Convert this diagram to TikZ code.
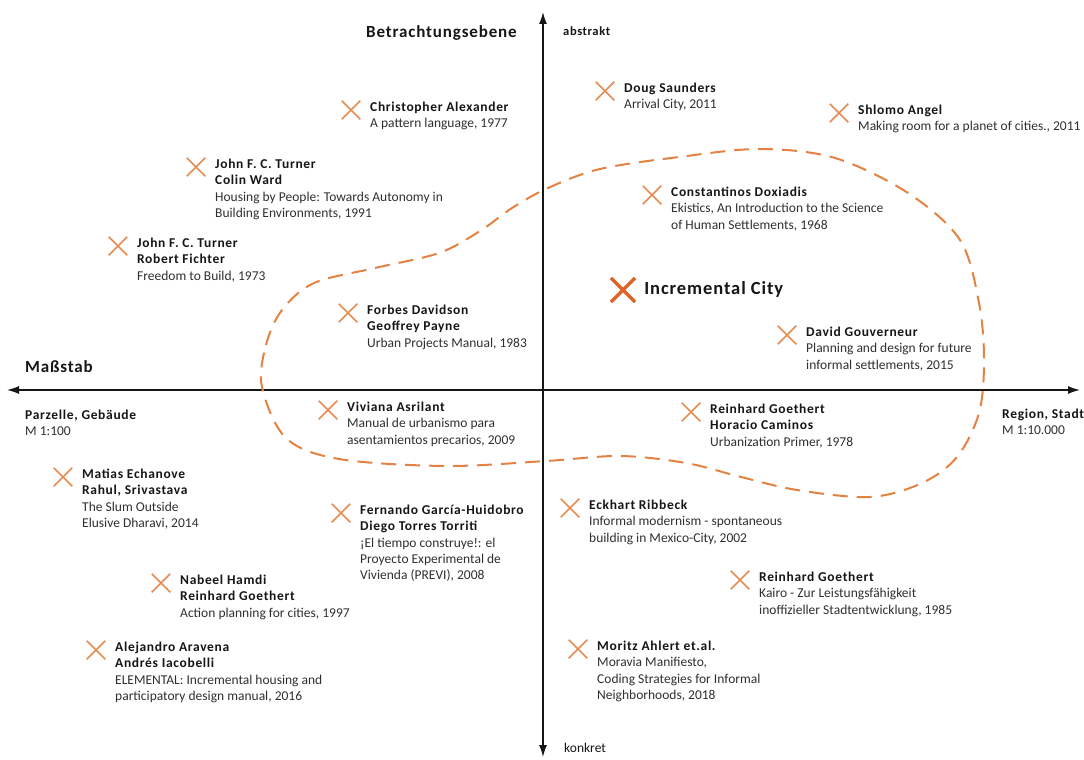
\documentclass[tikz,border=0pt]{standalone}
\usepackage{fontspec}
\setmainfont{Carlito}[BoldFeatures={LetterSpace=5}]
\usetikzlibrary{arrows.meta,shapes.misc}

\definecolor{markorange}{RGB}{230,140,82}
\definecolor{keyorange}{RGB}{224,98,38}
\definecolor{curveorange}{RGB}{228,130,66}
\definecolor{inkdark}{RGB}{22,22,22}
\definecolor{inkgrey}{RGB}{48,48,48}

% one literature reference: orange cross plus a text block to its right
\newcommand\litentry[4]{%
  \node[refmark] (#1) at (#2,#3) {};
  \node[reftext] (#1-text) at ([shift={(19,-8)}]#1.center) {#4};
}
\newcommand\au[1]{\textbf{\color{inkdark}#1}}

\begin{document}
\begin{tikzpicture}[x=1pt,y=-1pt,
  axis/.style={line width=1.4pt, draw=inkdark,
    {Latex[length=12pt,width=8pt]}-{Latex[length=12pt,width=8pt]}},
  refmark/.style={cross out, draw=markorange, line width=1.5pt,
    minimum size=17pt, inner sep=0pt},
  keymark/.style={cross out, draw=keyorange, line width=3.2pt,
    minimum size=21pt, inner sep=0pt},
  reftext/.style={anchor=north west, inner sep=0pt, align=left, text=inkgrey,
    font=\fontsize{13.5}{16.2}\selectfont,
    execute at begin node={\rule{0pt}{10pt}}},
  axistitle/.style={inner sep=0pt, text=inkdark, font=\fontsize{17}{20}\selectfont\bfseries},
  polelabel/.style={inner sep=0pt, anchor=west, text=inkdark, font=\fontsize{13.5}{16}\selectfont},
  zone/.style={draw=curveorange, line width=2pt, dash pattern=on 15pt off 9pt}
]
\useasboundingbox (0,0) rectangle (1084,760);
\fill[white] (0,0) rectangle (1084,760);

% axes
\coordinate (vtop) at (543,12);
\coordinate (vbottom) at (543,757);
\coordinate (hleft) at (7,390);
\coordinate (hright) at (1080,390);
\draw[axis] (hleft) -- (hright);
\draw[axis] (vbottom) -- (vtop);

% axis titles and pole labels
\node[axistitle, anchor=west] (ebene) at (366,33) {Betrachtungsebene};
\node[axistitle, anchor=west] (massstab) at (25,367) {Maßstab};
\node[polelabel, font=\fontsize{12.5}{15}\selectfont\bfseries] (abstrakt) at (563,31) {abstrakt};
\node[polelabel] (konkret) at (564,748) {konkret};
\node[reftext] (parzelle) at (25,410) {\au{Parzelle, Gebäude}\\M 1:100};
\node[reftext] (region) at (1002,409) {\au{Region, Stadt}\\M 1:10.000};

% zone of the incremental city
\draw[zone] plot[smooth cycle, tension=0.55] coordinates {
  (262,387) (266,345) (282,310) (314,283) (375,268) (439,253) (480,231)
  (512,208) (548,188) (600,169) (679,157) (760,149) (835,158) (908,193)
  (960,240) (979,303) (984,360) (979,413) (957,457) (922,483) (870,497)
  (797,490) (741,477) (686,463) (620,456) (546,461) (446,466) (339,459)
  (286,438)};

% key position
\node[keymark] (incremental) at (623,290) {};
\node[anchor=west, inner sep=0pt, text=inkdark, font=\fontsize{18.5}{22}\selectfont\bfseries]
  (incremental-text) at ([xshift=9pt,yshift=1pt]incremental.east) {Incremental City};

% literature references
\litentry{alexander}{351}{110}{\au{Christopher Alexander}\\A pattern language, 1977}
\litentry{saunders}{605}{91}{\au{Doug Saunders}\\Arrival City, 2011}
\litentry{angel}{839}{113}{\au{Shlomo Angel}\\Making room for a planet of cities., 2011}
\litentry{turnerward}{196}{167}{\au{John F. C. Turner}\\\au{Colin Ward}\\Housing by People: Towards Autonomy in\\Building Environments, 1991}
\litentry{doxiadis}{652}{195}{\au{Constantinos Doxiadis}\\Ekistics, An Introduction to the Science\\of Human Settlements, 1968}
\litentry{turnerfichter}{118}{246}{\au{John F. C. Turner}\\\au{Robert Fichter}\\Freedom to Build, 1973}
\litentry{davidson}{348}{313}{\au{Forbes Davidson}\\\au{Geoffrey Payne}\\Urban Projects Manual, 1983}
\litentry{gouverneur}{787}{335}{\au{David Gouverneur}\\Planning and design for future\\informal settlements, 2015}
\litentry{asrilant}{328}{410}{\au{Viviana Asrilant}\\Manual de urbanismo para\\asentamientos precarios, 2009}
\litentry{goethertcaminos}{691}{412}{\au{Reinhard Goethert}\\\au{Horacio Caminos}\\Urbanization Primer, 1978}
\litentry{echanove}{63}{477}{\au{Matias Echanove}\\\au{Rahul, Srivastava}\\The Slum Outside\\Elusive Dharavi, 2014}
\litentry{garcia}{341}{513}{\au{Fernando García-Huidobro}\\\au{Diego Torres Torriti}\\¡El tiempo construye!: el\\Proyecto Experimental de\\Vivienda (PREVI), 2008}
\litentry{ribbeck}{570}{508}{\au{Eckhart Ribbeck}\\Informal modernism - spontaneous\\building in Mexico-City, 2002}
\litentry{goethertkairo}{740}{580}{\au{Reinhard Goethert}\\Kairo - Zur Leistungsfähigkeit\\inoffizieller Stadtentwicklung, 1985}
\litentry{hamdi}{161}{583}{\au{Nabeel Hamdi}\\\au{Reinhard Goethert}\\Action planning for cities, 1997}
\litentry{aravena}{96}{650}{\au{Alejandro Aravena}\\\au{Andrés Iacobelli}\\ELEMENTAL: Incremental housing and\\participatory design manual, 2016}
\litentry{ahlert}{578}{649}{\au{Moritz Ahlert et.al.}\\Moravia Manifiesto,\\Coding Strategies for Informal\\Neighborhoods, 2018}
\end{tikzpicture}
\end{document}
